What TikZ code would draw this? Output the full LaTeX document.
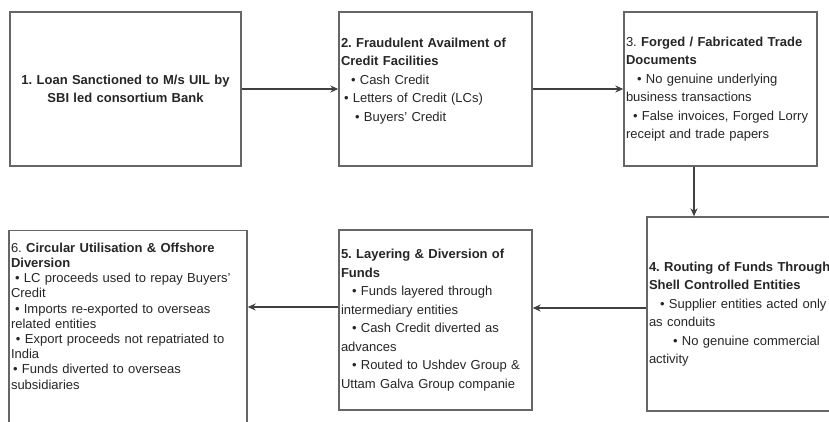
\documentclass[tikz,border=0pt]{standalone}
\usepackage{fontspec}
\setmainfont{Liberation Sans}
\frenchspacing
\usepackage{tikz}
\usetikzlibrary{arrows, arrows.meta, positioning}
\tikzstyle{arrow}     = [line width=1.2pt,-{Stealth[length=8pt,width=7pt]},draw=black!75]

\begin{document}
\begin{tikzpicture}[
    x=1pt, y=-1pt,
    stage/.style={draw=black!60, line width=1.4pt, fill=white,
      inner xsep=2pt, inner ysep=0pt, align=left, text=black!85,
      font=\fontsize{13}{18.5}\selectfont},
    ]
    \useasboundingbox (0,0) rectangle (829,421);
    \clip (0,0) rectangle (829,421);
    \node[stage, align=center, text width=227pt, minimum height=154pt] (loan) at (125.5,89) {
      \textbf{1. Loan Sanctioned to M/s UIL by}\\
      \textbf{SBI led consortium Bank}
    };
    \node[stage, text width=189pt, minimum height=154pt] (fraud) at (435.5,89) {
      \textbf{2. Fraudulent Availment of}\\
      \textbf{Credit Facilities}\\
      \hspace*{10pt}• Cash Credit\\
      \hspace*{3pt}• Letters of Credit (LCs)\\
      \hspace*{14pt}• Buyers' Credit\\
      \mbox{}
    };
    \node[stage, text width=189pt, minimum height=154pt] (forge) at (720.5,89) {
      3. \textbf{Forged / Fabricated Trade}\\
      \textbf{Documents}\\
      \hspace*{11pt}• No genuine underlying\\
      business transactions\\
      \hspace*{7pt}• False invoices, Forged Lorry\\
      receipt and trade papers
    };
    \node[stage, text width=189pt, minimum height=194pt] (route) at (743.5,314) {
      \textbf{4. Routing of Funds Through}\\
      \textbf{Shell Controlled Entities}\\
      \hspace*{11pt}• Supplier entities acted only\\
      as conduits\\
      \hspace*{24pt}• No genuine commercial\\
      activity
    };
    \node[stage, text width=189pt, minimum height=180pt] (layer) at (435.5,320) {
      \textbf{5. Layering \& Diversion of}\\
      \textbf{Funds}\\
      \hspace*{11pt}• Funds layered through\\
      intermediary entities\\
      \hspace*{11pt}• Cash Credit diverted as\\
      advances\\
      \hspace*{11pt}• Routed to Ushdev Group \&\\
      Uttam Galva Group companie
    };
    \node[stage, anchor=north, text width=234pt, inner ysep=11.5pt,
      text height=10pt, text depth=200pt,
      font=\fontsize{13}{15.2}\selectfont] (circ) at (128,230) {
      6. \textbf{Circular Utilisation \& Offshore}\\
      \textbf{Diversion}\\
      \hspace*{4pt}• LC proceeds used to repay Buyers'\\
      Credit\\
      \hspace*{4pt}• Imports re-exported to overseas\\
      related entities\\
      \hspace*{5pt}• Export proceeds not repatriated to\\
      India\\
      \hspace*{2pt}• Funds diverted to overseas\\
      subsidiaries
    };
    % flow of funds
    \draw[arrow] (loan) -- (fraud);
    \draw[arrow] (fraud) -- (forge);
    \draw[arrow] ([xshift=-26.5pt]forge.south) -- ([xshift=-26.5pt]forge.south |- route.north);
    \draw[arrow] ([yshift=6pt]route.west) -- ([yshift=6pt]route.west -| layer.east);
    \draw[arrow] ([yshift=13pt]layer.west) -- ([yshift=13pt]layer.west -| circ.east);
  \end{tikzpicture}
\end{document}
